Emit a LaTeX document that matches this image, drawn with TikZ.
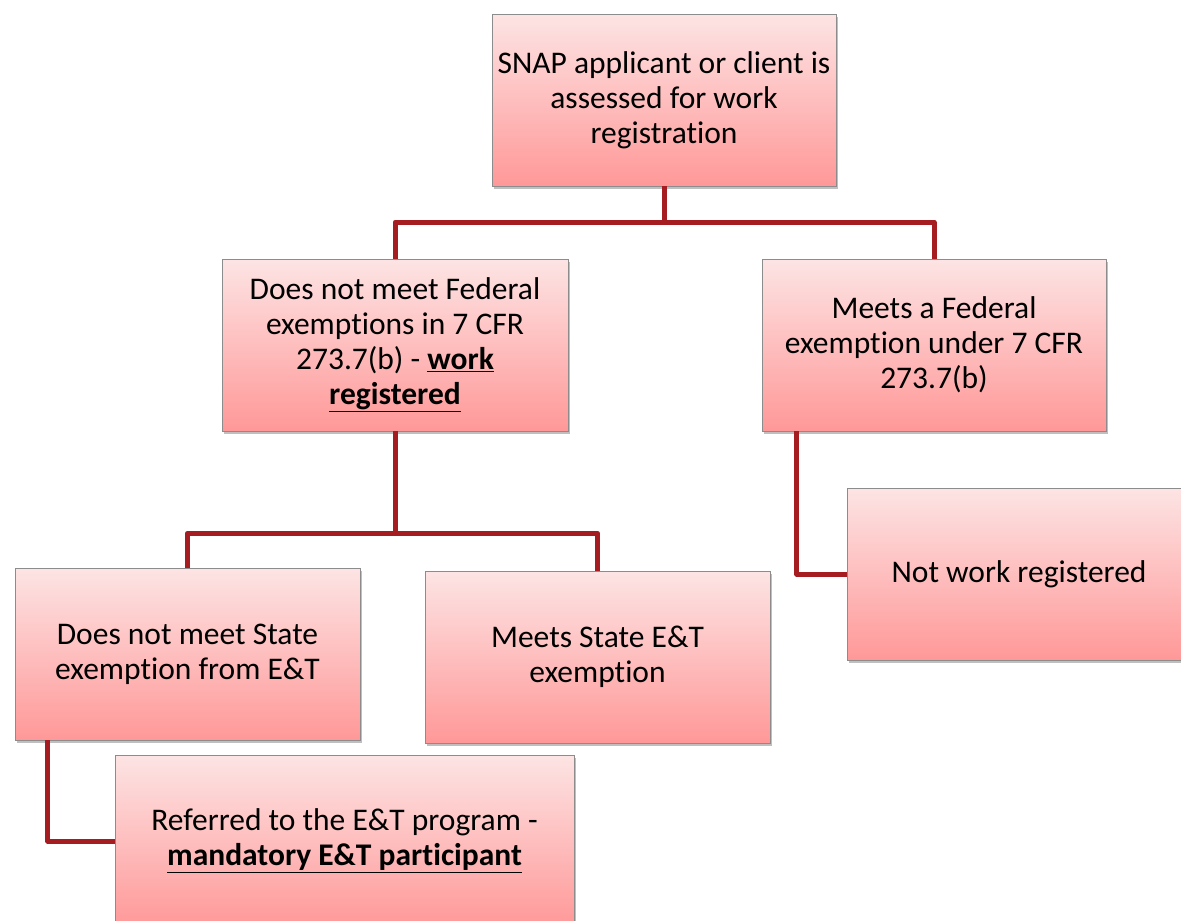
\documentclass[tikz,border=0pt]{standalone}
\usepackage{fontspec}
\setmainfont{Carlito}[Ligatures=NoCommon]
\usetikzlibrary{positioning,calc,shadows}
\definecolor{linkred}{RGB}{165,28,33}
\definecolor{boxtop}{RGB}{253,228,228}
\definecolor{boxbot}{RGB}{255,152,152}
\definecolor{boxline}{RGB}{140,140,140}
\tikzset{
  stepbox/.style = { draw=boxline, thin, top color=boxtop, bottom color=boxbot,
    minimum width=344pt, minimum height=172pt, inner sep=0pt, align=center,
    font=\fontsize{31.5}{35}\selectfont,
    drop shadow={shadow xshift=2pt, shadow yshift=-3pt, opacity=0.25, fill=black} },
  link/.style    = { draw=linkred, line width=5pt, line join=round }
}
\newcommand{\ul}[1]{\underline{\textbf{#1}}}
\begin{document}
\begin{tikzpicture}[x=1pt,y=-1pt]
  \useasboundingbox (0,0) rectangle (1181,921);
  \node[stepbox] (snap) at (664,100) {SNAP applicant or client is\\assessed for work\\registration};
  \node[stepbox, minimum width=346pt] (fed) at (395,345) {Does not meet Federal\\exemptions in 7 CFR\\273.7(b) - \ul{work}\\\ul{registered}};
  \node[stepbox] (exfed) at (934,345) {Meets a Federal\\exemption under 7 CFR\\273.7(b)};
  \node[stepbox, minimum width=345pt] (nostate) at (187.5,654) {Does not meet State\\exemption from E\&T};
  \node[stepbox, minimum width=345pt] (state) at (597.5,657) {Meets State E\&T\\exemption};
  \node[stepbox, minimum width=459pt] (mand) at (344.5,841) {Referred to the E\&T program -\\\ul{mandatory E\&T participant}};
  \node[stepbox] (notreg) at (1019,574) {Not work registered};
  % tree connectors
  \draw[link] (snap.south) -- ++(0,36) -| (fed.north);
  \draw[link] (snap.south) -- ++(0,36) -| (exfed.north);
  \draw[link] (fed.south) -- ++(0,102) -| (nostate.north);
  \draw[link] (fed.south) -- ++(0,102) -| (state.north);
  \draw[link] ($(nostate.south west)+(33,0)$) |- (mand.west);
  \draw[link] ($(exfed.south west)+(35,0)$) |- (notreg.west);
\end{tikzpicture}
\end{document}
